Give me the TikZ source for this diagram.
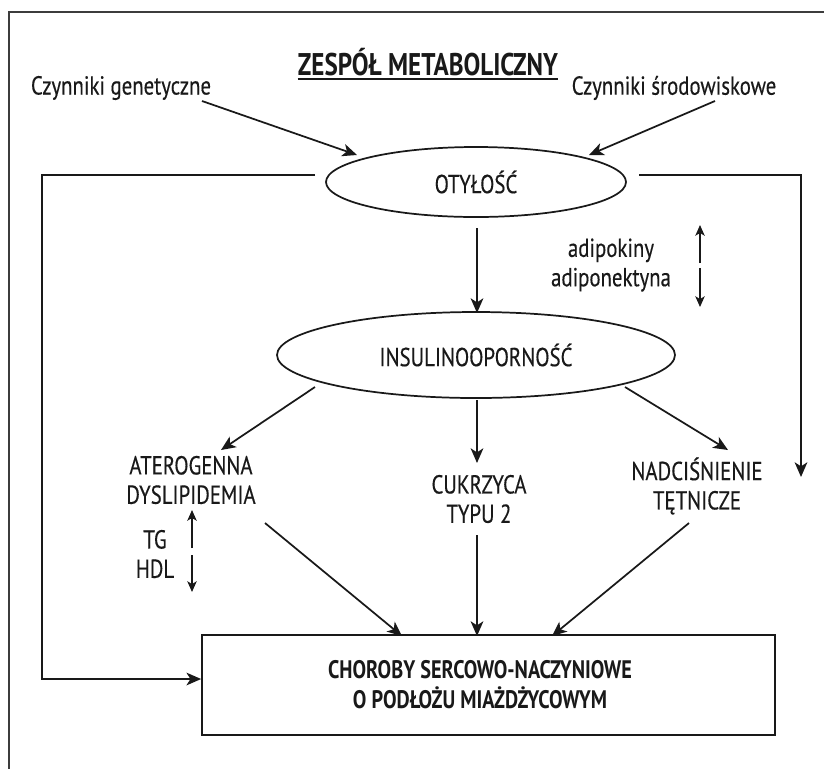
\documentclass[tikz,border=0pt]{standalone}
\usepackage{fontspec}
\setmainfont{PT Sans}[FakeStretch=0.8, FakeBold=0.35]
\newfontfamily\titlefont{PT Sans}[FakeStretch=0.8]
\usetikzlibrary{arrows.meta,shapes.geometric}
\definecolor{ink}{gray}{0.1}
\begin{document}
\begin{tikzpicture}[x=0.75pt,y=-0.75pt,
  ln/.style={line width=1.3pt, draw=ink},
  arr/.style={ln, -{Stealth[length=11pt,width=9.5pt,inset=3pt]}},
  sarr/.style={line width=1.2pt, draw=ink, -{Stealth[length=8pt,width=7pt,inset=2pt]}},
  txt/.style={font=\fontsize{19.5}{22}\selectfont, align=center, inner sep=0pt, text=ink},
  btxt/.style={font=\titlefont\bfseries\fontsize{19}{22.5}\selectfont, align=center, inner sep=0pt, text=ink},
  oval/.style={ellipse, draw=ink, line width=1.3pt, inner sep=0pt, txt}
]
\useasboundingbox (0,0) rectangle (824,769);
% frame
\draw[line width=1.6pt, draw=ink!85] (824,12) -- (9,12) -- (9,769);
% title
\node[btxt, font=\titlefont\bfseries\fontsize{23.5}{26}\selectfont, anchor=base] (title) at (428,75) {ZESPÓŁ METABOLICZNY};
\draw[line width=1.5pt, draw=ink] ([yshift=-3pt]title.base west) -- ([yshift=-3pt]title.base east);
% texts
\node[txt] (gen) at (121,88) {Czynniki genetyczne};
\node[txt] (env) at (674,88) {Czynniki środowiskowe};
\node[oval, minimum width=225pt, minimum height=52.5pt] (oty) at (476,182) {OTYŁOŚĆ};
\node[oval, minimum width=298.5pt, minimum height=64.5pt] (ins) at (476,355) {INSULINOOPORNOŚĆ};
\node[txt] (adi) at (611,265) {adipokiny\\adiponektyna};
\node[txt] (ater) at (191,480) {ATEROGENNA\\DYSLIPIDEMIA};
\node[txt] (cuk) at (479,499) {CUKRZYCA\\TYPU 2};
\node[txt] (nad) at (697,486) {NADCIŚNIENIE\\TĘTNICZE};
\node[txt] (tg) at (155,554) {TG\\HDL};
\node[draw=ink, line width=1.3pt, minimum width=429.75pt, minimum height=75pt, inner sep=0pt] (box) at (488.5,685) {};
\node[btxt] (boxtxt) at (480,685) {CHOROBY SERCOWO-NACZYNIOWE\\O PODŁOŻU MIAŻDŻYCOWYM};
% coordinates
\coordinate (g1) at (202,101); \coordinate (g2) at (357,155);
\coordinate (e1) at (715,101); \coordinate (e2) at (589,155);
\coordinate (ls) at (315,175); \coordinate (lc) at (42,175);
\coordinate (rs) at (639,175); \coordinate (rc) at (801,175); \coordinate (re) at (801,477);
\coordinate (o1) at (477,228); \coordinate (o2) at (477,313);
\coordinate (au1) at (700,263); \coordinate (au2) at (700,225);
\coordinate (ad1) at (700,268); \coordinate (ad2) at (700,307);
\coordinate (i1) at (315,387); \coordinate (i1e) at (221,450);
\coordinate (i2) at (477,400); \coordinate (i2e) at (477,463);
\coordinate (i3) at (625,387); \coordinate (i3e) at (728,450);
\coordinate (b1) at (265,523); \coordinate (b1e) at (402,636);
\coordinate (b2) at (477,535); \coordinate (b2e) at (477,636);
\coordinate (b3) at (689,523); \coordinate (b3e) at (552,636);
\coordinate (tu1) at (192,548); \coordinate (tu2) at (192,510);
\coordinate (td1) at (192,555); \coordinate (td2) at (192,592);
% connectors
\draw[arr] (g1) -- (g2);
\draw[arr] (e1) -- (e2);
\draw[arr] (ls) -- (lc) |- ([yshift=4.5pt]box.west);
\draw[arr] (rs) -- (rc) -- (re);
\draw[arr] (o1) -- (o2);
\draw[sarr] (au1) -- (au2);
\draw[sarr] (ad1) -- (ad2);
\draw[arr] (i1) -- (i1e);
\draw[arr] (i2) -- (i2e);
\draw[arr] (i3) -- (i3e);
\draw[arr] (b1) -- (b1e);
\draw[arr] (b2) -- (b2e);
\draw[arr] (b3) -- (b3e);
\draw[sarr] (tu1) -- (tu2);
\draw[sarr] (td1) -- (td2);
\end{tikzpicture}
\end{document}
